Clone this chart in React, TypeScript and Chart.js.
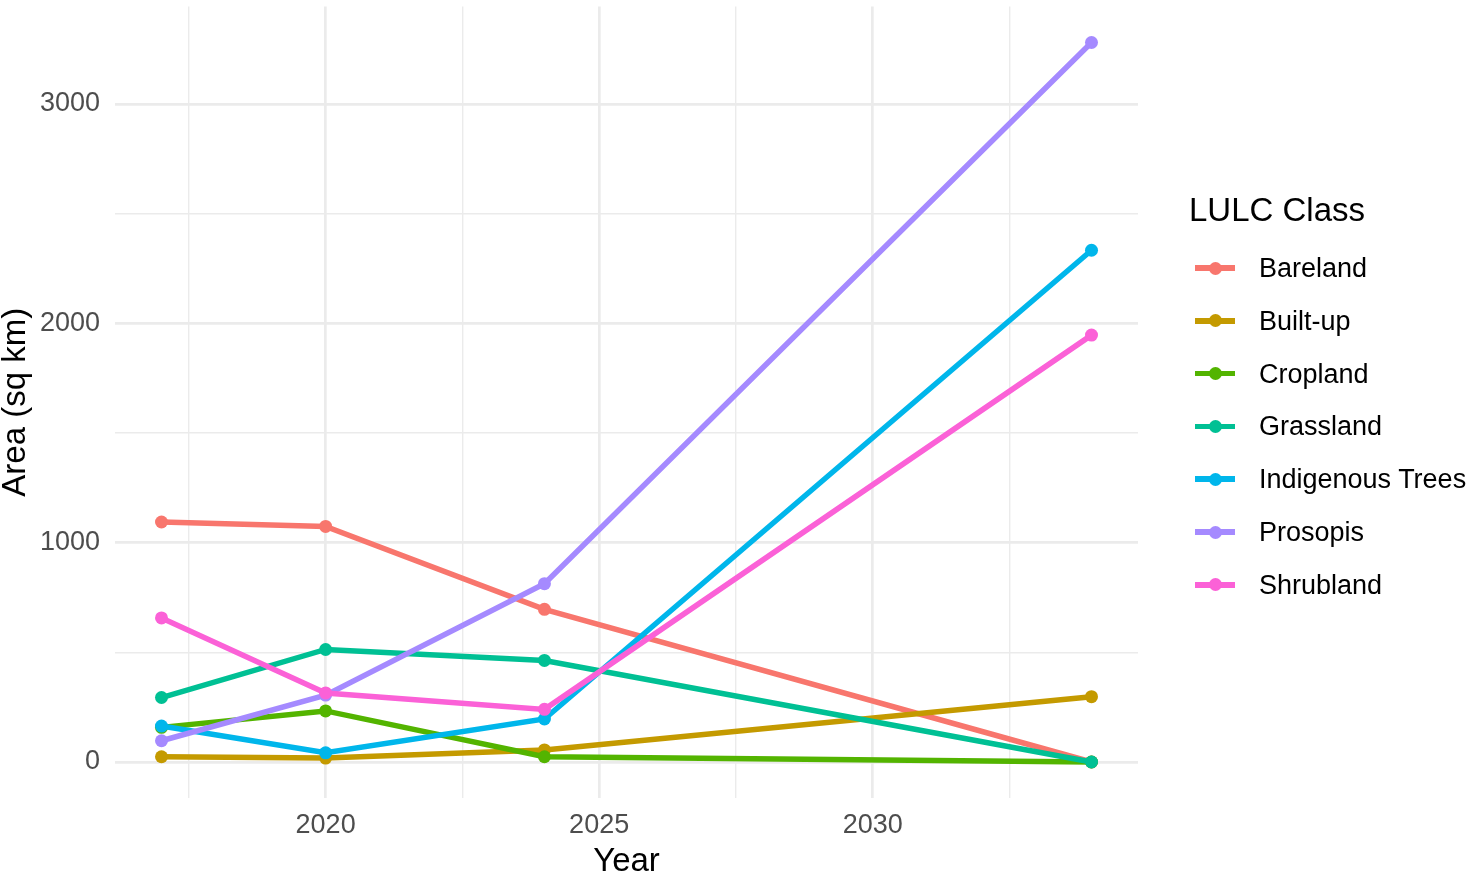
import React, { useEffect, useRef } from "react";
import { Chart, registerables } from "chart.js";

Chart.register(...registerables);

const years = [2017, 2020, 2024, 2034];
const classNames = ["Bareland", "Built-up", "Cropland", "Grassland", "Indigenous Trees", "Prosopis", "Shrubland"];
const bareland = [1094, 1074, 696, 0];
const builtUp = [24, 18, 55, 298];
const cropland = [158, 233, 24, 0];
const grassland = [294, 513, 463, 0];
const indigenousTrees = [164, 42, 196, 2333];
const prosopis = [97, 305, 813, 3280];
const shrubland = [657, 315, 240, 1946];
const colors = ["#F8766D", "#C49A00", "#53B400", "#00C094", "#00B6EB", "#A58AFF", "#FB61D7"];
const xTicks = [2017.5, 2020, 2022.5, 2025, 2027.5, 2030, 2032.5];
const yTicks = [0, 500, 1000, 1500, 2000, 2500, 3000];

const series = [bareland, builtUp, cropland, grassland, indigenousTrees, prosopis, shrubland];
const FONT = "'Liberation Sans', Arial, sans-serif";

export default function App() {
  const ref = useRef<HTMLCanvasElement | null>(null);
  useEffect(() => {
    if (!ref.current) return;
    const chart = new Chart(ref.current, {
      type: "line",
      data: {
        datasets: series.map((vals, i) => ({
          label: classNames[i],
          data: years.map((y, j) => ({ x: y, y: vals[j] })),
          borderColor: colors[i],
          backgroundColor: colors[i],
          borderWidth: 5.5,
          pointRadius: 6.5,
          pointBorderWidth: 0,
          pointBackgroundColor: colors[i],
          tension: 0,
          order: series.length - i,
        })),
      },
      options: {
        responsive: false,
        animation: false,
        layout: { padding: { left: 0, top: 4, right: 336, bottom: 0 } },
        plugins: { legend: { display: false }, tooltip: { enabled: false } },
        scales: {
          x: {
            type: "linear",
            min: 2016.15,
            max: 2034.85,
            afterBuildTicks: (s: any) => {
              s.ticks = xTicks.map((v) => ({ value: v }));
            },
            afterFit: (s: any) => {
              s.height = 81;
              s.paddingLeft = 0;
              s.paddingRight = 0;
            },
            border: { display: false },
            grid: {
              color: "#EBEBEB",
              lineWidth: (c: any) => (c.tick && c.tick.value % 5 === 0 ? 2.7 : 1.4),
              drawTicks: false,
            },
            ticks: {
              autoSkip: false,
              maxRotation: 0,
              padding: 11,
              color: "#4D4D4D",
              font: { family: FONT, size: 27 },
              callback: (v: any) => (Number(v) % 5 === 0 ? String(v) : ""),
            },
            title: {
              display: true,
              text: "Year",
              color: "#000000",
              font: { family: FONT, size: 33, lineHeight: 1 },
              padding: { top: 0, bottom: 0.5 },
            },
          },
          y: {
            type: "linear",
            min: -164,
            max: 3444,
            afterBuildTicks: (s: any) => {
              s.ticks = yTicks.map((v) => ({ value: v }));
            },
            afterFit: (s: any) => {
              s.width = 115;
              s.paddingTop = 0;
              s.paddingBottom = 0;
            },
            border: { display: false },
            grid: {
              color: "#EBEBEB",
              lineWidth: (c: any) => (c.tick && c.tick.value % 1000 === 0 ? 2.7 : 1.4),
              drawTicks: false,
            },
            ticks: {
              autoSkip: false,
              padding: 15,
              color: "#4D4D4D",
              font: { family: FONT, size: 27 },
              callback: (v: any) => (Number(v) % 1000 === 0 ? String(v) : ""),
            },
            title: {
              display: true,
              text: "Area (sq km)",
              color: "#000000",
              font: { family: FONT, size: 33, lineHeight: 1 },
              padding: { top: -1, bottom: 0 },
            },
          },
        },
      },
    } as any);
    return () => chart.destroy();
  }, []);

  return (
    <div style={{ position: "fixed", left: 0, top: 0, width: 1474, height: 879, background: "#fff", fontFamily: FONT }}>
      <canvas ref={ref} width={1474} height={879} style={{ position: "absolute", left: 0, top: 0 }} />
      <div style={{ position: "absolute", left: 1189, top: 190, fontSize: 33, lineHeight: "40px", color: "#000", whiteSpace: "nowrap" }}>
        LULC Class
      </div>
      {classNames.map((n, i) => {
        const cy = 268 + 52.8 * i;
        return (
          <div key={n}>
            <div style={{ position: "absolute", left: 1195, top: cy - 2.75, width: 40, height: 5.5, background: colors[i] }} />
            <div style={{ position: "absolute", left: 1208.5, top: cy - 6.5, width: 13, height: 13, borderRadius: 6.5, background: colors[i] }} />
            <div style={{ position: "absolute", left: 1259, top: cy - 16, fontSize: 27, lineHeight: "32px", color: "#000", whiteSpace: "nowrap" }}>
              {n}
            </div>
          </div>
        );
      })}
    </div>
  );
}
